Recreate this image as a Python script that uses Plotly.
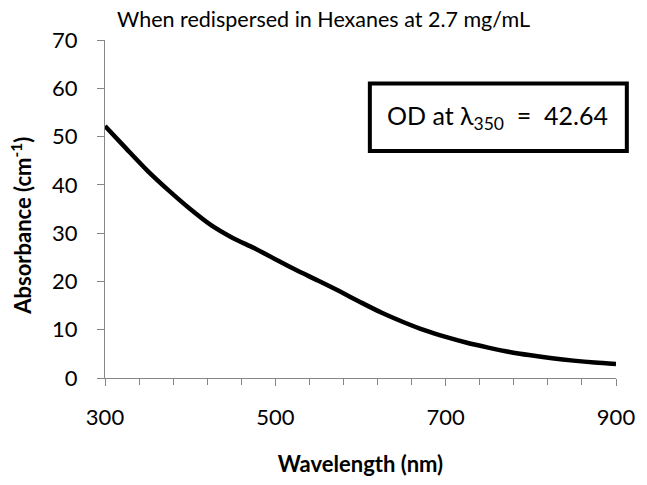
import plotly.graph_objects as go

wavelength_nm = [300, 325, 350, 375, 400, 425, 450, 475, 500, 525, 550, 575, 600,
                 625, 650, 675, 700, 725, 750, 775, 800, 825, 850, 875, 900]
absorbance = [52.2, 47.5, 42.9, 38.8, 35.0, 31.6, 29.0, 26.9, 24.6, 22.3, 20.2, 18.0, 15.7,
              13.5, 11.6, 9.9, 8.5, 7.3, 6.3, 5.4, 4.7, 4.1, 3.6, 3.2, 2.9]

x_tick_start, x_tick_step, x_minor_step = 300, 200, 40
y_tick_step = 10

title_text = "When redispersed in Hexanes at 2.7 mg/mL"
x_title = "<b>Wavelength (nm)</b>"
y_title = "<b>Absorbance (cm<sup>-1</sup>)</b>"
box_text = "OD at λ<sub>350</sub>  =  42.64"

FONT = "Lato, 'Open Sans', sans-serif"
AXIS_GRAY = "#868686"
L, R, T, B = 105, 23, 40, 95
PW, PH = 647 - L - R, 485 - T - B

fig = go.Figure()
fig.add_trace(go.Scatter(
    x=wavelength_nm, y=absorbance, mode="lines",
    line=dict(color="black", width=4.5, shape="spline", smoothing=0.8),
    showlegend=False, hoverinfo="x+y",
))

fig.update_layout(
    width=647, height=485,
    margin=dict(l=L, r=R, t=T, b=B),
    paper_bgcolor="white", plot_bgcolor="white",
    font=dict(family=FONT, color="black", size=22),
    title=dict(text=title_text, x=0.5, xanchor="center", xref="container",
               y=1 - 19 / 485, yref="container", yanchor="middle",
               font=dict(family=FONT, size=21.5, color="black")),
    xaxis=dict(
        range=[300, 900], tickmode="linear", tick0=x_tick_start, dtick=x_tick_step,
        showgrid=False, zeroline=False, showline=True, linecolor=AXIS_GRAY, linewidth=1,
        ticks="outside", ticklen=7, tickcolor=AXIS_GRAY, tickwidth=1,
        minor=dict(tick0=x_tick_start, dtick=x_minor_step, ticks="outside", ticklen=6,
                   tickcolor=AXIS_GRAY, tickwidth=1, showgrid=False),
        tickfont=dict(family=FONT, size=22), ticklabelstandoff=13,
        title=dict(text=x_title, font=dict(family=FONT, size=22), standoff=27),
    ),
    yaxis=dict(
        range=[0, 70], tickmode="linear", tick0=0, dtick=y_tick_step,
        showgrid=False, zeroline=False, showline=True, linecolor=AXIS_GRAY, linewidth=1,
        ticks="outside", ticklen=7, tickcolor=AXIS_GRAY, tickwidth=1,
        tickfont=dict(family=FONT, size=22), ticklabelstandoff=15,
    ),
)

# Y-axis title (placed explicitly)
fig.add_annotation(text=y_title, xref="paper", yref="paper",
                   x=(20 - L) / PW, y=(485 - B - 232) / PH,
                   xanchor="center", yanchor="middle", textangle=-90, showarrow=False,
                   font=dict(family=FONT, size=22, color="black"))

# Boxed annotation
fig.add_shape(type="rect", xref="paper", yref="paper",
              x0=(374 - L) / PW, x1=(635 - L) / PW,
              y0=(485 - B - 155) / PH, y1=(485 - B - 85) / PH,
              line=dict(color="black", width=4), fillcolor="white", layer="above")
fig.add_annotation(text=box_text, xref="paper", yref="paper",
                   x=(504 - L) / PW, y=(485 - B - 120) / PH,
                   xanchor="center", yanchor="middle", showarrow=False,
                   font=dict(family=FONT, size=25, color="black"))

fig.write_html(
    "out.html",
    config={"displayModeBar": False},
    post_script="document.body.style.margin='0';document.body.style.overflow='hidden';",
)
